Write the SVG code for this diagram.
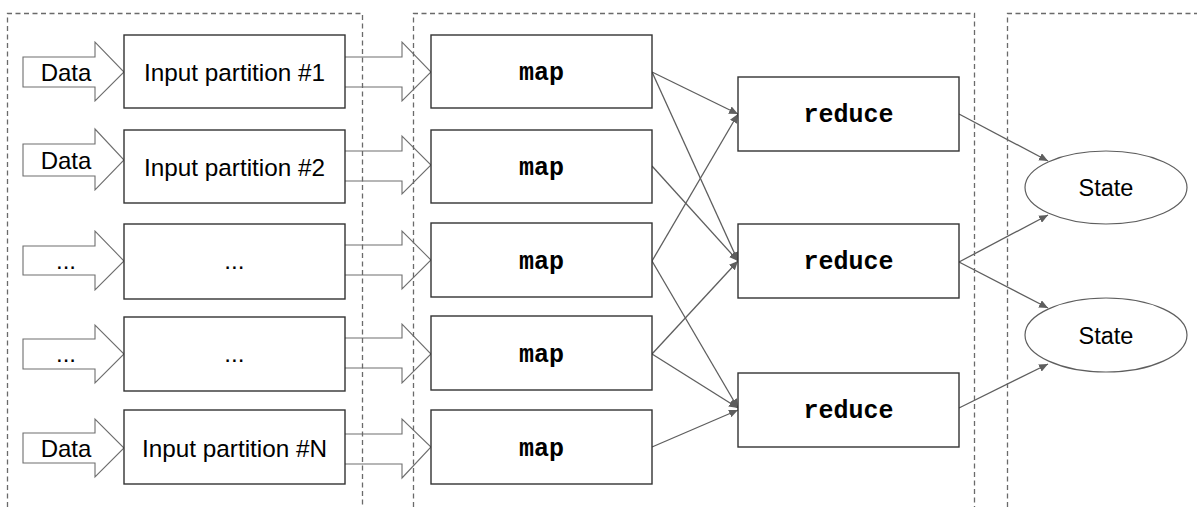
<svg xmlns="http://www.w3.org/2000/svg" width="1197" height="507" viewBox="0 0 1197 507">
<style>
.bg{fill:#ffffff}
.box{fill:#ffffff;stroke:#333333;stroke-width:1.4}
.blk{fill:none;stroke:#6e6e6e;stroke-width:1.1}
.dash{fill:none;stroke:#6a6a6a;stroke-width:1.3;stroke-dasharray:5,3.5}
.conn{fill:none;stroke:#5e5e5e;stroke-width:1.3}
.ell{fill:#ffffff;stroke:#5e5e5e;stroke-width:1.2}
.t{font-family:"Liberation Sans",Arial,sans-serif;font-size:24px;fill:#000000;text-anchor:middle}
.p{font-family:"Liberation Sans",Arial,sans-serif;font-size:24.3px;fill:#000000;text-anchor:middle}
.s{font-family:"Liberation Sans",Arial,sans-serif;font-size:23.5px;fill:#000000;text-anchor:middle}
.m{font-family:"Liberation Mono","Courier New",monospace;font-size:25px;font-weight:bold;fill:#000000;text-anchor:middle}
</style>
<defs>
<marker id="ah" markerUnits="userSpaceOnUse" markerWidth="10" markerHeight="8" refX="9" refY="4" orient="auto">
<path d="M0,0 L9,4 L0,8 Z" fill="#5e5e5e"/>
</marker>
</defs>
<rect class="bg" x="0" y="0" width="1197" height="507"/>

<g id="connectors">
<line class="conn" x1="652" y1="72" x2="738" y2="114" marker-end="url(#ah)"/>
<line class="conn" x1="652" y1="72" x2="738" y2="261" marker-end="url(#ah)"/>
<line class="conn" x1="652" y1="166" x2="738" y2="261" marker-end="url(#ah)"/>
<line class="conn" x1="652" y1="261" x2="738" y2="114" marker-end="url(#ah)"/>
<line class="conn" x1="652" y1="261" x2="738" y2="408" marker-end="url(#ah)"/>
<line class="conn" x1="652" y1="354" x2="738" y2="261" marker-end="url(#ah)"/>
<line class="conn" x1="652" y1="354" x2="738" y2="408" marker-end="url(#ah)"/>
<line class="conn" x1="652" y1="447" x2="738" y2="410" marker-end="url(#ah)"/>
<line class="conn" x1="959" y1="114" x2="1048" y2="161" marker-end="url(#ah)"/>
<line class="conn" x1="959" y1="262" x2="1048" y2="215" marker-end="url(#ah)"/>
<line class="conn" x1="959" y1="262" x2="1048" y2="308" marker-end="url(#ah)"/>
<line class="conn" x1="959" y1="408" x2="1048" y2="364" marker-end="url(#ah)"/>
</g>

<g id="data-arrows">
<polygon class="blk" points="23,57 95,57 95,42 124,72 95,101 95,87 23,87"/>
<polygon class="blk" points="23,144 95,144 95,129 124,160 95,190 95,176 23,176"/>
<polygon class="blk" points="23,246 95,246 95,231 124,261 95,290 95,275 23,275"/>
<polygon class="blk" points="23,339 95,339 95,325 124,354 95,383 95,369 23,369"/>
<polygon class="blk" points="23,433 95,433 95,419 124,448 95,477 95,463 23,463"/>
<text class="t" x="66" y="80.5">Data</text>
<text class="t" x="66" y="168.5">Data</text>
<text class="t" x="66" y="269">...</text>
<text class="t" x="66" y="362">...</text>
<text class="t" x="66" y="456.5">Data</text>
</g>

<g id="pm-arrows">
<polyline class="blk" points="345,57 402,57 402,42 431,72 402,101 402,87 345,87"/>
<polyline class="blk" points="345,151 402,151 402,136 431,165 402,194 402,181 345,181"/>
<polyline class="blk" points="345,245 402,245 402,231 431,260 402,289 402,275 345,275"/>
<polyline class="blk" points="345,338 402,338 402,324 431,354 402,383 402,368 345,368"/>
<polyline class="blk" points="345,434 402,434 402,419 431,447 402,478 402,464 345,464"/>
</g>

<g id="partition-1"><rect class="box" x="124" y="35" width="221" height="73"/><text class="p" x="234.5" y="80.5">Input partition #1</text></g>
<g id="partition-2"><rect class="box" x="124" y="130" width="221" height="73"/><text class="p" x="234.5" y="175.5">Input partition #2</text></g>
<g id="partition-3"><rect class="box" x="124" y="224" width="221" height="75"/><text class="p" x="234.5" y="269">...</text></g>
<g id="partition-4"><rect class="box" x="124" y="317" width="221" height="74"/><text class="p" x="234.5" y="362">...</text></g>
<g id="partition-n"><rect class="box" x="124" y="410" width="221" height="74"/><text class="p" x="234.5" y="456.5">Input partition #N</text></g>

<g id="map-1"><rect class="box" x="431" y="35" width="221" height="73"/><text class="m" x="541.5" y="80">map</text></g>
<g id="map-2"><rect class="box" x="431" y="130" width="221" height="73"/><text class="m" x="541.5" y="175">map</text></g>
<g id="map-3"><rect class="box" x="431" y="223" width="221" height="74"/><text class="m" x="541.5" y="269">map</text></g>
<g id="map-4"><rect class="box" x="431" y="316" width="221" height="74"/><text class="m" x="541.5" y="362">map</text></g>
<g id="map-5"><rect class="box" x="431" y="410" width="221" height="74"/><text class="m" x="541.5" y="456">map</text></g>

<g id="reduce-1"><rect class="box" x="738" y="77" width="221" height="74"/><text class="m" x="848.5" y="122">reduce</text></g>
<g id="reduce-2"><rect class="box" x="738" y="224" width="221" height="74"/><text class="m" x="848.5" y="269">reduce</text></g>
<g id="reduce-3"><rect class="box" x="738" y="373" width="221" height="74"/><text class="m" x="848.5" y="418">reduce</text></g>

<g id="state-1"><ellipse class="ell" cx="1106" cy="187.5" rx="81" ry="36.5"/><text class="s" x="1106" y="196">State</text></g>
<g id="state-2"><ellipse class="ell" cx="1106" cy="335" rx="81" ry="37"/><text class="s" x="1106" y="343.5">State</text></g>

<g id="stages">
<path class="dash" d="M7.5,507 V13.5 H362.5 V507"/>
<path class="dash" d="M413.5,507 V13.5 H974.5 V507"/>
<path class="dash" d="M1007.5,507 V13.5 H1197"/>
</g>
</svg>
